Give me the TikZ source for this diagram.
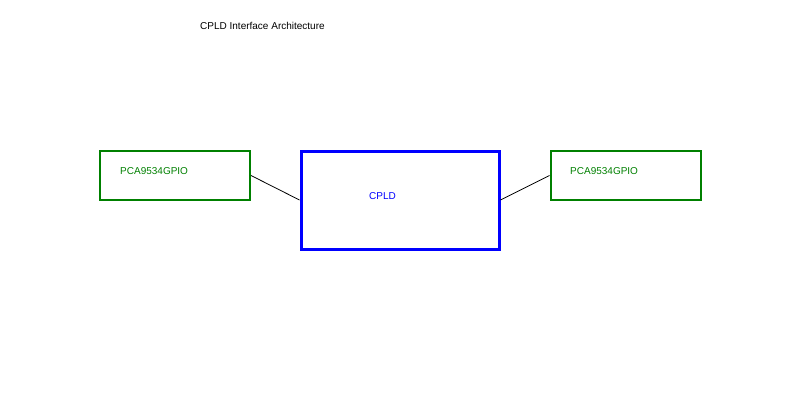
\documentclass[tikz,border=0pt]{standalone}
\usepackage{fontspec}
\setmainfont{Liberation Sans}
\definecolor{gpiogreen}{RGB}{0,128,0}
\definecolor{cpldblue}{RGB}{0,0,255}
\begin{document}
\begin{tikzpicture}[x=1pt,y=-1pt,
  gpiobox/.style={draw=gpiogreen,line width=2pt,minimum width=150pt,minimum height=49pt,inner sep=0pt},
  cpldbox/.style={draw=cpldblue,line width=3pt,minimum width=198pt,minimum height=98pt,inner sep=0pt},
  lbl/.style={anchor=west,inner sep=0pt,font=\fontsize{10}{12}\selectfont},
  link/.style={draw=black,line width=0.8pt}]
\useasboundingbox (0,0) rectangle (800,400);
\node[lbl] (title) at (200,26) {CPLD Interface Architecture};
\node[gpiobox] (gl) at (175,175.5) {};
\node[cpldbox] (cpld) at (400,200) {};
\node[gpiobox] (gr) at (625.5,175.5) {};
\node[lbl,text=gpiogreen] (gltext) at (120,171) {PCA9534GPIO};
\node[lbl,text=gpiogreen] (grtext) at (570,171) {PCA9534GPIO};
\node[lbl,text=cpldblue] (cpldtext) at (369,196) {CPLD};
\draw[link] (gl.east) -- (cpld.west);
\draw[link] (cpld.east) -- (gr.west);
\end{tikzpicture}
\end{document}
